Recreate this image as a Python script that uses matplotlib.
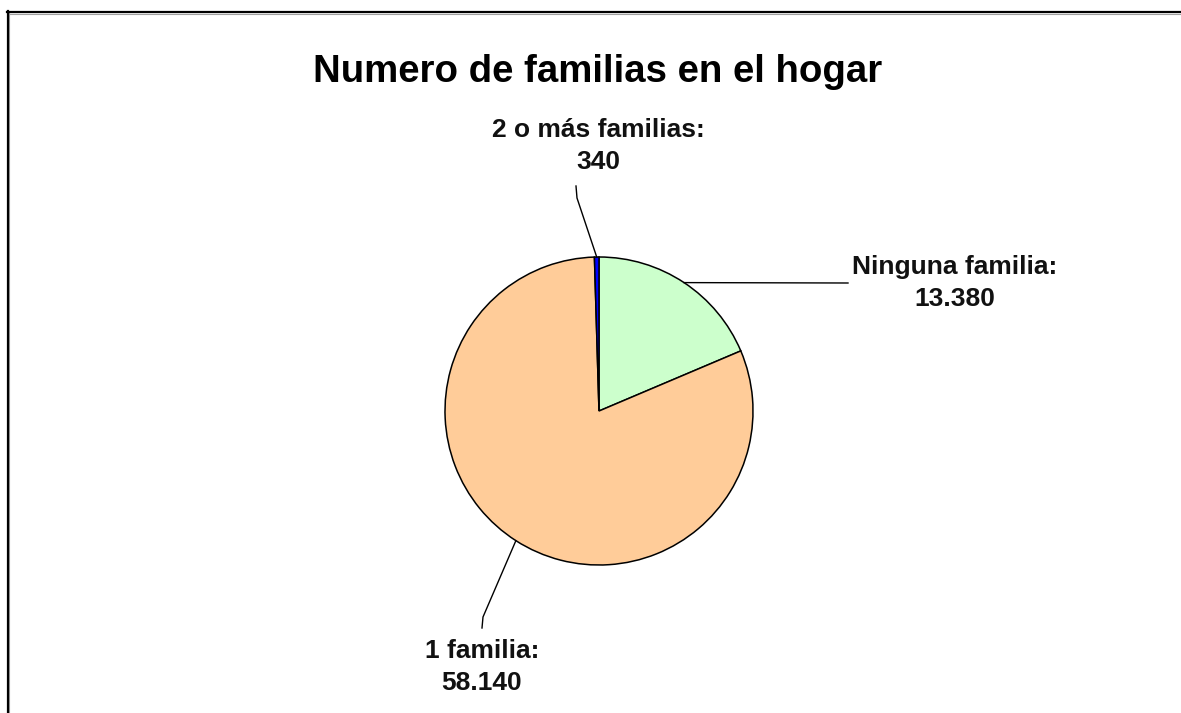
import numpy as np
import matplotlib.pyplot as plt
from matplotlib.lines import Line2D

# Chart data
categories = ["Ninguna familia", "1 familia", "2 o más familias"]
values = [13380, 58140, 340]
colors = ["#CCFFCC", "#FFCC99", "#0000FF"]
title = "Numero de familias en el hogar"

W, H = 1181, 713

fig = plt.figure(figsize=(W / 100, H / 100), dpi=100)
plt.rcParams['font.family'] = ['Liberation Sans', 'DejaVu Sans']

# Axes in pixel units (y measured from the top of the picture)
ax = fig.add_axes([0, 0, 1, 1])


def py(y):
    return H - y


cx, cy, r = 599, 411, 154

wedges, _ = ax.pie(
    values,
    colors=colors,
    startangle=90,
    counterclock=False,
    center=(cx, py(cy)),
    radius=r,
    frame=True,
    wedgeprops=dict(edgecolor="black", linewidth=1.1),
)
ax.set_xlim(0, W)
ax.set_ylim(0, H)
ax.axis("off")

# Label placement: (text centre x, text centre y, leader points after the rim point)
layout = [
    (955, 283, [(848, 283)]),
    (482, 667, [(483, 617), (482, 628)]),
    (598, 146, [(577, 198), (576, 186)]),
]

for w, cat, val, (tx, ty, pts) in zip(wedges, categories, values, layout):
    mid = np.deg2rad((w.theta1 + w.theta2) / 2)
    ex = cx + r * np.cos(mid)
    ey = py(cy) + r * np.sin(mid)
    xs = [ex] + [p[0] for p in pts]
    ys = [ey] + [py(p[1]) for p in pts]
    ax.plot(xs, ys, color="black", linewidth=1.0)
    label = f"{cat}:\n{val:,}".replace(",", ".")
    ax.text(tx, py(ty), label, ha="center", va="center", fontsize=19,
            fontweight="bold", linespacing=1.42, color="#111111")

ax.text(598, py(82), title, ha="center", va="baseline", fontsize=27.6,
        fontweight="bold", color="black")

# Frame lines along the top and left edges
fig.add_artist(Line2D([9.5 / W, 9.5 / W], [0, py(12) / H], color="#A0A0A0",
                      linewidth=0.8, transform=fig.transFigure))
fig.add_artist(Line2D([9.5 / W, 1], [py(13.5) / H, py(13.5) / H], color="#A0A0A0",
                      linewidth=0.8, transform=fig.transFigure))
fig.add_artist(Line2D([8 / W, 8 / W], [0, py(11) / H], color="black",
                      linewidth=1.6, transform=fig.transFigure))
fig.add_artist(Line2D([7.2 / W, 1], [py(12) / H, py(12) / H], color="black",
                      linewidth=1.6, transform=fig.transFigure))

fig.savefig("out.png", dpi=100, facecolor="white")
